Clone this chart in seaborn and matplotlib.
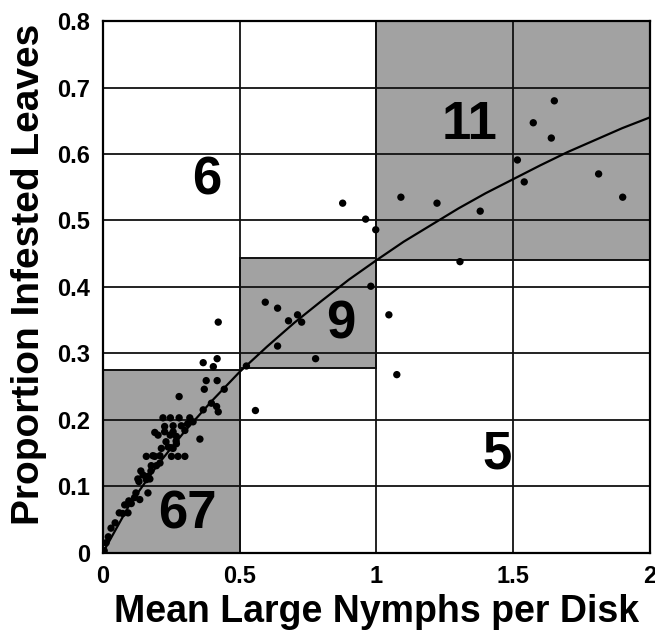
import numpy as np
import pandas as pd
import seaborn as sns
import matplotlib.pyplot as plt
from matplotlib.patches import Rectangle

# punti osservati (media ninfe grandi per disco, proporzione foglie infestate)
nymphs = [
    0.000, 0.005, 0.012, 0.020, 0.030, 0.045, 0.060, 0.073, 0.092, 0.080,
    0.095, 0.104, 0.116, 0.121, 0.135, 0.132, 0.128, 0.159, 0.172, 0.139,
    0.147, 0.165, 0.176, 0.177, 0.196, 0.209, 0.159, 0.183, 0.209, 0.251,
    0.275, 0.300, 0.165, 0.214, 0.239, 0.257, 0.269, 0.231, 0.268, 0.269,
    0.202, 0.246, 0.190, 0.226, 0.257, 0.300, 0.226, 0.257, 0.287, 0.310,
    0.220, 0.247, 0.279, 0.318, 0.355, 0.367, 0.397, 0.416, 0.422, 0.279,
    0.371, 0.444, 0.378, 0.418, 0.330, 0.190, 0.250,
    0.367, 0.418, 0.422, 0.404, 0.877, 0.961,
    0.594, 0.639, 0.679, 0.712, 0.727, 0.639, 0.778, 0.525, 0.980,
    0.558, 1.046, 1.075, 1.306,
    1.651, 1.574, 1.640, 1.516, 1.541, 1.813, 1.901, 1.090, 1.222, 1.380, 0.998,
]
infested = [
    0.000, 0.003, 0.015, 0.024, 0.037, 0.045, 0.060, 0.059, 0.060, 0.072,
    0.078, 0.074, 0.083, 0.090, 0.080, 0.107, 0.111, 0.110, 0.111, 0.123,
    0.117, 0.115, 0.123, 0.131, 0.131, 0.135, 0.145, 0.146, 0.146, 0.145,
    0.145, 0.145, 0.090, 0.157, 0.159, 0.157, 0.164, 0.167, 0.168, 0.175,
    0.177, 0.177, 0.181, 0.182, 0.182, 0.184, 0.190, 0.191, 0.191, 0.194,
    0.203, 0.203, 0.203, 0.203, 0.171, 0.215, 0.225, 0.220, 0.212, 0.235,
    0.246, 0.246, 0.259, 0.259, 0.197, 0.145, 0.158,
    0.286, 0.292, 0.347, 0.280, 0.526, 0.502,
    0.377, 0.368, 0.349, 0.358, 0.347, 0.311, 0.292, 0.281, 0.401,
    0.214, 0.358, 0.268, 0.438,
    0.680, 0.647, 0.624, 0.591, 0.558, 0.570, 0.535, 0.535, 0.526, 0.514, 0.486,
]

# curva adattata
curve_x = [0, 0.1, 0.2, 0.3, 0.4, 0.5, 0.6, 0.7, 0.8, 0.9, 1.0,
           1.1, 1.2, 1.3, 1.4, 1.5, 1.6, 1.7, 1.8, 1.9, 2.0]
curve_y = [0, 0.074, 0.132, 0.183, 0.229, 0.272, 0.31, 0.346, 0.379, 0.411, 0.44,
           0.468, 0.493, 0.518, 0.541, 0.562, 0.583, 0.603, 0.621, 0.639, 0.655]

# zone ombreggiate (x0, x1, y0, y1) e conteggi
regions_x0 = [0.0, 0.5, 1.0]
regions_x1 = [0.5, 1.0, 2.0]
regions_y0 = [0.0, 0.278, 0.44]
regions_y1 = [0.275, 0.443, 0.8]

count_labels = ["6", "9", "11", "5", "67"]
count_x = [0.38, 0.87, 1.34, 1.44, 0.31]
count_y = [0.56, 0.343, 0.643, 0.148, 0.058]

df = pd.DataFrame({"x": nymphs, "y": infested})
curve = pd.DataFrame({"x": curve_x, "y": curve_y})

sns.set_style("white")
plt.rcParams["font.family"] = ["Liberation Sans", "DejaVu Sans"]
plt.rcParams["text.color"] = "black"

fig = plt.figure(figsize=(6.55, 6.39), dpi=100)
ax = fig.add_axes([0.157, 0.135, 0.835, 0.832])

for x0, x1, y0, y1 in zip(regions_x0, regions_x1, regions_y0, regions_y1):
    ax.add_patch(Rectangle((x0, y0), x1 - x0, y1 - y0, facecolor="#a2a2a2",
                           edgecolor="#111111", lw=1.4, zorder=0.5))

xt = [0, 0.5, 1, 1.5, 2]
yt = [0, 0.1, 0.2, 0.3, 0.4, 0.5, 0.6, 0.7, 0.8]
for v in xt[1:-1]:
    ax.axvline(v, color="#111111", lw=1.3, zorder=1)
for v in yt[1:-1]:
    ax.axhline(v, color="#111111", lw=1.3, zorder=1)

sns.lineplot(data=curve, x="x", y="y", color="black", lw=1.6, ax=ax, zorder=3)
sns.scatterplot(data=df, x="x", y="y", color="black", s=28, edgecolor="none", ax=ax, zorder=4)

for t, x, y in zip(count_labels, count_x, count_y):
    ax.text(x, y, t, fontsize=38, fontweight="bold", color="black",
            ha="center", va="center", zorder=5)

ax.set_xlim(0, 2)
ax.set_ylim(0, 0.8)
ax.set_xticks(xt)
ax.set_xticklabels(["0", "0.5", "1", "1.5", "2"])
ax.set_yticks(yt)
ax.set_yticklabels(["0", "0.1", "0.2", "0.3", "0.4", "0.5", "0.6", "0.7", "0.8"])
ax.tick_params(length=0, labelsize=17, pad=9, labelcolor="black")
for lab in ax.get_xticklabels() + ax.get_yticklabels():
    lab.set_fontweight("bold")
for s in ax.spines.values():
    s.set_color("black")
    s.set_linewidth(1.6)

ax.set_xlabel("Mean Large Nymphs per Disk", fontsize=27, fontweight="bold",
              color="black", labelpad=4)
ax.set_ylabel("Proportion Infested Leaves", fontsize=28, fontweight="bold",
              color="black")
ax.yaxis.set_label_coords(-0.102, 0.523)

fig.savefig("out.png", dpi=100)
